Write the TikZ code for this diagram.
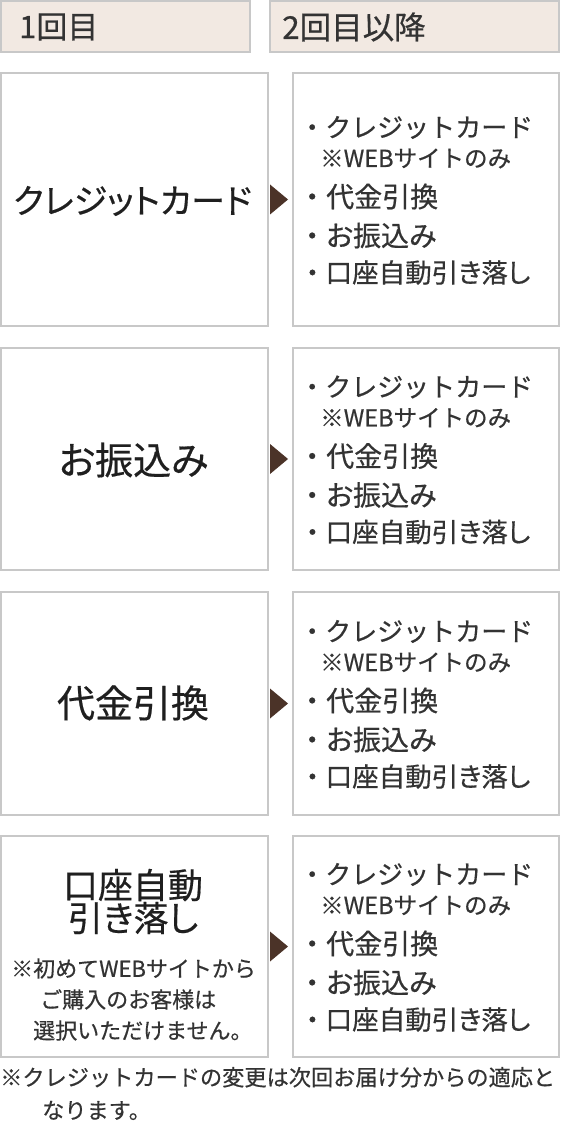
\documentclass[tikz,border=0pt]{standalone}
\usepackage{fontspec}
\newfontfamily\jp{Noto Sans CJK JP}[FakeBold=0.5]
\newfontfamily\jpp{Noto Sans CJK JP}[RawFeature=+palt,FakeBold=0.5]
\definecolor{framegray}{HTML}{C8C8C8}
\definecolor{headfill}{HTML}{F2E9E2}
\definecolor{textgray}{HTML}{333333}
\definecolor{arrowc}{HTML}{4B3328}
\newcommand{\fs}[1]{\fontsize{#1}{#1}\selectfont}
\begin{document}
\begin{tikzpicture}[x=1pt,y=-1pt,
  frame/.style={draw=framegray, line width=2pt, fill=white, inner sep=0pt},
  head/.style={frame, fill=headfill, minimum height=51pt},
  lbox/.style={frame, minimum width=267pt},
  rbox/.style={frame, minimum width=266pt},
  txt/.style={text=textgray, inner sep=0pt},
  title/.style={txt, text=black!88, font=\jpp\fs{#1}},
  item/.style={txt, anchor=west, font=\jpp\fs{#1}},
  sub/.style={txt, anchor=west, font=\jp\fs{23.5}},
  tri/.style={fill=arrowc}]
\useasboundingbox (0,0) rectangle (560,1123);
% headers
\node[head, minimum width=249pt] (h1) at (125.5,26.5) {};
\node[head, minimum width=289pt] (h2) at (414.5,26.5) {};
\node[txt, anchor=west, font=\jp\fs{31}] (h1t) at (19,27) {1回目};
\node[txt, anchor=west, font=\jp\fs{31.5}] (h2t) at (282,27) {2回目以降};
% rows
\foreach \i/\cy/\h in {1/199.5/253, 2/459/222, 3/703.5/223, 4/946.5/221}{
  \node[lbox, minimum height=\h pt] (l\i) at (134.5,\cy) {};
  \node[rbox, minimum height=\h pt] (r\i) at (426,\cy) {};
  \fill[tri] (l\i.east) ++(1,-15) -- ++(18,15) -- ++(-18,15) -- cycle;
  \node[item=26, font=\jp\fs{26}] (r\i a) at (299,\cy-72) {・クレジットカード};
  \node[sub]  (r\i b) at (320,\cy-41) {※WEBサイトのみ};
  \node[item=28] (r\i c) at (298,\cy-3) {{\jp ・}代金引換};
  \node[item=28] (r\i d) at (298,\cy+36) {{\jp ・}お振込み};
  \node[item=26.5] (r\i e) at (299,\cy+73) {{\jp ・}口座自動引き落し};
}
% left titles
\node[title=34] (t1) at (132.5,201) {クレジットカード};
\node[title=38] (t2) at (133.5,460) {お振込み};
\node[title=38] (t3) at (133,703) {代金引換};
\node[title=34, align=center, font=\jpp\fontsize{35}{33}\selectfont] (t4) at (133,901.5) {口座自動\\引き落し};
\node[txt, anchor=west, align=left, font=\jp\fontsize{22}{31}\selectfont] (n4) at (11,999.5)
  {※初めてWEBサイトから\\\hspace*{29pt}ご購入のお客様は\\\hspace*{22pt}選択いただけません。};
% bottom note
\node[txt, anchor=west, align=left, font=\jp\fontsize{22.2}{33}\selectfont] (note) at (0,1093.5)
  {※クレジットカードの変更は次回お届け分からの適応と\\\hspace*{42pt}なります。};
\end{tikzpicture}
\end{document}
